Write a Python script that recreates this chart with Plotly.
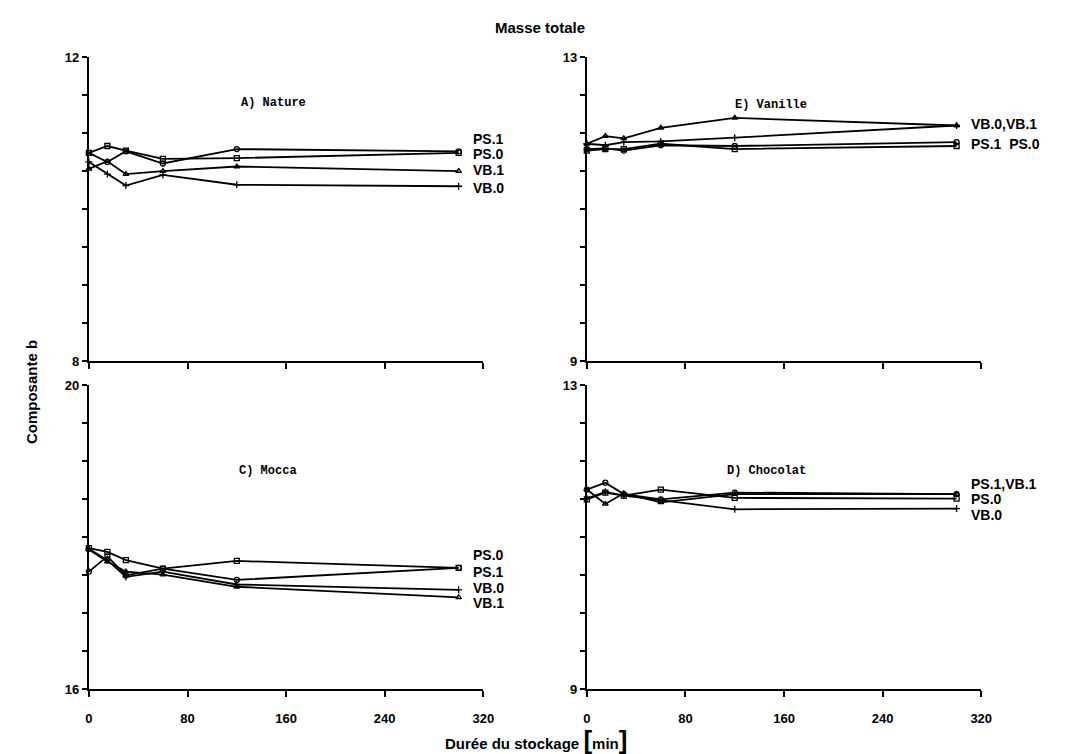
import plotly.graph_objects as go

W, H = 1071, 754

times = [0, 15, 30, 60, 120, 300]
x_ticks = [0, 80, 160, 240, 320]

# A) Nature
nature_ps1 = [10.74, 10.62, 10.76, 10.60, 10.79, 10.76]
nature_ps0 = [10.74, 10.83, 10.77, 10.66, 10.67, 10.74]
nature_vb1 = [10.53, 10.63, 10.46, 10.50, 10.56, 10.50]
nature_vb0 = [10.62, 10.46, 10.31, 10.45, 10.32, 10.30]

# E) Vanille
vanille_vb1 = [11.86, 11.96, 11.93, 12.07, 12.20, 12.10]
vanille_vb0 = [11.86, 11.84, 11.88, 11.89, 11.94, 12.10]
vanille_ps1 = [11.79, 11.80, 11.77, 11.84, 11.83, 11.88]
vanille_ps0 = [11.77, 11.79, 11.79, 11.86, 11.79, 11.83]

# C) Mocca
mocca_ps0 = [17.86, 17.81, 17.70, 17.59, 17.69, 17.60]
mocca_ps1 = [17.55, 17.75, 17.50, 17.59, 17.44, 17.60]
mocca_vb0 = [17.85, 17.70, 17.48, 17.55, 17.38, 17.31]
mocca_vb1 = [17.84, 17.68, 17.55, 17.51, 17.35, 17.21]

# D) Chocolat
choc_ps1 = [11.63, 11.72, 11.57, 11.50, 11.59, 11.57]
choc_vb1 = [11.63, 11.44, 11.58, 11.46, 11.57, 11.57]
choc_ps0 = [11.50, 11.59, 11.55, 11.63, 11.52, 11.51]
choc_vb0 = [11.51, 11.60, 11.55, 11.49, 11.37, 11.38]

markers = {"PS.0": "square-open", "PS.1": "circle-open",
           "VB.0": "cross-thin-open", "VB.1": "triangle-up-open"}

panels = [
    ("x", "y", {"PS.1": nature_ps1, "PS.0": nature_ps0, "VB.1": nature_vb1, "VB.0": nature_vb0}),
    ("x2", "y2", {"VB.1": vanille_vb1, "VB.0": vanille_vb0, "PS.1": vanille_ps1, "PS.0": vanille_ps0}),
    ("x3", "y3", {"PS.0": mocca_ps0, "PS.1": mocca_ps1, "VB.0": mocca_vb0, "VB.1": mocca_vb1}),
    ("x4", "y4", {"PS.1": choc_ps1, "VB.1": choc_vb1, "PS.0": choc_ps0, "VB.0": choc_vb0}),
]

fig = go.Figure()
for xa, ya, series in panels:
    for name, vals in series.items():
        fig.add_trace(go.Scatter(
            x=times, y=vals, xaxis=xa, yaxis=ya, mode="lines+markers",
            line=dict(color="black", width=1.8),
            marker=dict(symbol=markers[name], size=5, color="black",
                        line=dict(color="black", width=1.3)),
            cliponaxis=False, showlegend=False, name=name))


def px(p):
    return p / W


def py(p):
    return 1 - p / H


left = [px(78), px(478)]
right = [px(583), px(983)]
top = [py(353), py(43)]
bottom = [py(688), py(378)]

tickfont = dict(family="Liberation Sans", size=13, color="black")


def yax(dom, lo, hi, anchor):
    vals = [lo + 0.5 * i for i in range(int((hi - lo) / 0.5) + 1)]
    txt = [f"<b>{int(v)}</b>" if v in (lo, hi) else "" for v in vals]
    return dict(domain=dom, range=[lo, hi], anchor=anchor, showline=True,
                linecolor="black", linewidth=2, ticks="outside", ticklen=5,
                tickwidth=1.5, tickcolor="black", tickvals=vals, ticktext=txt,
                showgrid=False, zeroline=False, tickfont=tickfont)


def xax(dom, anchor, labels):
    return dict(domain=dom, range=[0, 320], anchor=anchor, showline=True,
                linecolor="black", linewidth=2, ticks="outside", ticklen=6,
                tickwidth=1.5, tickcolor="black", tickvals=x_ticks,
                ticktext=[f"<b>{v}</b>" for v in x_ticks],
                showticklabels=labels, ticklabelstandoff=10,
                showgrid=False, zeroline=False, tickfont=tickfont)


fig.update_layout(
    width=W, height=H, autosize=False,
    margin=dict(l=0, r=0, t=0, b=0),
    paper_bgcolor="white", plot_bgcolor="white",
    xaxis=xax(left, "y", False), yaxis=yax(top, 8, 12, "x"),
    xaxis2=xax(right, "y2", False), yaxis2=yax(top, 9, 13, "x2"),
    xaxis3=xax(left, "y3", True), yaxis3=yax(bottom, 16, 20, "x3"),
    xaxis4=xax(right, "y4", True), yaxis4=yax(bottom, 9, 13, "x4"),
)

ann = []
bold = dict(family="Liberation Sans", size=15, color="black")
ann.append(dict(text="<b>Masse totale</b>", x=px(535), y=py(13), xref="paper", yref="paper",
                showarrow=False, font=bold, xanchor="center", yanchor="middle"))
ann.append(dict(text="<b>Composante b</b>", x=px(20), y=py(385), xref="paper", yref="paper",
                showarrow=False, font=bold, textangle=-90, xanchor="center", yanchor="middle"))
ann.append(dict(text="<b>Durée du stockage <span style='font-size:26px'>[</span>min<span style='font-size:26px'>]</span></b>",
                x=px(531), y=py(740), xref="paper", yref="paper",
                showarrow=False, font=bold, xanchor="center", yanchor="middle"))

mono = dict(family="Liberation Mono", size=12, color="black")
for txt, xx, yy in [("A) Nature", 265, 90), ("E) Vanille", 770, 92),
                    ("C) Mocca", 260, 465), ("D) Chocolat", 765, 465)]:
    ann.append(dict(text=f"<b>{txt}</b>", x=px(xx), y=py(yy), xref="paper", yref="paper",
                    showarrow=False, font=mono, xanchor="center", yanchor="middle"))

lab = dict(family="Liberation Sans", size=14, color="black")
series_labels = [
    ("x", "y", [("PS.1", 10.92), ("PS.0", 10.72), ("VB.1", 10.52), ("VB.0", 10.28)]),
    ("x2", "y2", [("VB.0,VB.1", 12.12), ("PS.1  PS.0", 11.86)]),
    ("x3", "y3", [("PS.0", 17.77), ("PS.1", 17.55), ("VB.0", 17.33), ("VB.1", 17.13)]),
    ("x4", "y4", [("PS.1,VB.1", 11.70), ("PS.0", 11.50), ("VB.0", 11.30)]),
]
for xa, ya, items in series_labels:
    for txt, yv in items:
        ann.append(dict(text=f"<b>{txt}</b>", x=300, y=yv, xref=xa, yref=ya,
                        showarrow=False, font=lab, xanchor="left", yanchor="middle", xshift=12))

fig.update_layout(annotations=ann)
fig.write_html("out.html")
